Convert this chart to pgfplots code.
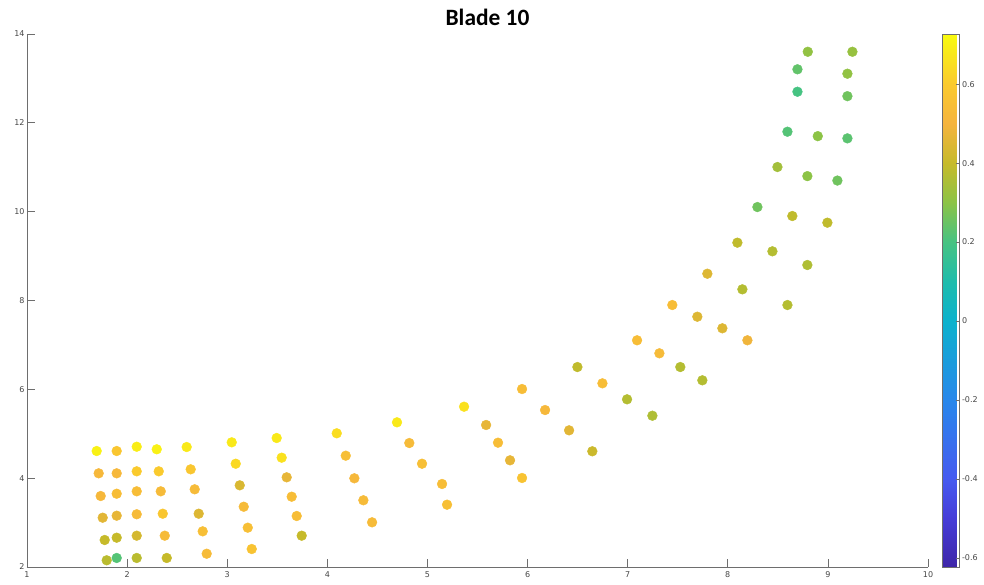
\documentclass[border=0pt]{standalone}
\usepackage{fontspec}
\setmainfont{DejaVu Sans}
\newfontfamily\carlito{Carlito}
\usepackage{pgfplots}
\pgfplotsset{compat=1.18}

% parula-like colour map
\pgfplotsset{colormap={parula}{
  rgb255(0)=(62,38,168)
  rgb255(91)=(70,60,215)
  rgb255(165)=(70,90,240)
  rgb255(313)=(40,135,235)
  rgb255(461)=(12,178,205)
  rgb255(535)=(30,188,172)
  rgb255(610)=(70,195,130)
  rgb255(684)=(140,195,70)
  rgb255(758)=(198,186,42)
  rgb255(832)=(245,180,62)
  rgb255(906)=(250,202,45)
  rgb255(1000)=(249,251,14)
}}

\definecolor{axgray}{RGB}{110,110,110}
\definecolor{lblgray}{RGB}{70,70,70}

\begin{document}
\begin{tikzpicture}
\begin{axis}[
  at={(0pt,0pt)}, anchor=south west,
  scale only axis, width=901pt, height=533pt,
  xmin=1, xmax=10, ymin=2, ymax=14,
  xtick={1,2,...,10}, ytick={2,4,...,14},
  axis x line*=bottom, axis y line*=left,
  axis line style={axgray, line width=0.7pt},
  tick align=inside, major tick length=8pt,
  tick style={axgray, line width=0.7pt},
  ticklabel style={font=\fontsize{8}{9}\selectfont, text=lblgray},
  /pgf/number format/assume math mode=true,
  xticklabel style={yshift=-1pt},
  yticklabel style={xshift=1pt},
  title={Blade 10},
  title style={font=\carlito\bfseries\fontsize{23.4}{25}\selectfont,
               at={(0.5,1)}, anchor=base, xshift=10pt, yshift=2.5pt},
  colorbar, colormap name=parula,
  point meta min=-0.623, point meta max=0.727,
  colorbar style={
    scale only axis, width=17pt, height=533pt,
    at={(parent axis.north east)}, anchor=north west, xshift=6pt,
    ytick={-0.6,-0.4,-0.2,0,0.2,0.4,0.6},
    ytick pos=right, yticklabel pos=right,
    tick align=inside, major tick length=4pt,
    tick style={axgray, line width=0.6pt},
    axis line style={axgray, line width=0.6pt},
    /pgf/number format/assume math mode=true,
    yticklabel style={font=\fontsize{8}{9}\selectfont, text=lblgray,
      /pgf/number format/fixed, /pgf/number format/assume math mode=true,
      xshift=-1pt},
  },
]
\addplot[scatter, only marks, mark=*, mark size=4.9pt,
  scatter/use mapped color={draw=mapped color, fill=mapped color},
  scatter src=explicit]
  table[x=x, y=y, meta=c] {
x y c
1.696 4.611 0.70
1.716 4.109 0.52
1.736 3.598 0.52
1.756 3.110 0.46
1.776 2.608 0.40
1.796 2.151 0.38
1.896 4.611 0.58
1.896 4.109 0.52
1.896 3.650 0.54
1.896 3.155 0.47
1.896 2.660 0.40
1.896 2.203 0.22
2.096 4.708 0.69
2.096 4.154 0.60
2.096 3.704 0.54
2.096 3.187 0.53
2.096 2.705 0.43
2.096 2.203 0.38
2.296 4.650 0.70
2.316 4.154 0.60
2.336 3.704 0.53
2.356 3.200 0.58
2.376 2.705 0.53
2.396 2.203 0.40
2.595 4.701 0.68
2.635 4.199 0.58
2.675 3.749 0.53
2.715 3.200 0.45
2.755 2.803 0.55
2.795 2.299 0.53
3.045 4.807 0.68
3.085 4.325 0.64
3.125 3.839 0.44
3.165 3.357 0.53
3.205 2.885 0.55
3.245 2.405 0.57
3.494 4.904 0.68
3.544 4.461 0.66
3.594 4.019 0.47
3.644 3.583 0.54
3.694 3.148 0.54
3.744 2.705 0.40
4.094 5.010 0.65
4.184 4.506 0.55
4.270 3.997 0.52
4.360 3.502 0.53
4.447 3.006 0.53
4.696 5.257 0.68
4.819 4.791 0.53
4.946 4.325 0.55
5.146 3.869 0.54
5.196 3.403 0.55
5.366 5.609 0.66
5.586 5.197 0.47
5.705 4.799 0.54
5.825 4.402 0.47
5.945 4.004 0.57
5.945 6.007 0.54
6.175 5.534 0.52
6.415 5.077 0.46
6.647 4.605 0.41
6.498 6.502 0.39
6.748 6.135 0.54
6.994 5.775 0.37
7.247 5.406 0.36
7.094 7.104 0.54
7.317 6.811 0.53
7.526 6.502 0.37
7.746 6.203 0.37
7.446 7.898 0.54
7.696 7.635 0.45
7.946 7.374 0.45
8.196 7.104 0.49
7.796 8.603 0.45
8.146 8.251 0.37
8.596 7.898 0.37
8.096 9.302 0.39
8.446 9.107 0.37
8.795 8.799 0.36
8.296 10.104 0.26
8.645 9.902 0.39
8.995 9.752 0.39
8.496 11.005 0.34
8.795 10.800 0.30
9.095 10.700 0.26
8.596 11.800 0.22
8.899 11.700 0.30
9.195 11.650 0.23
8.696 12.700 0.20
9.195 12.600 0.26
8.696 13.205 0.24
9.195 13.106 0.31
8.799 13.600 0.31
9.245 13.600 0.32
};
\end{axis}
\pgfresetboundingbox
\path[use as bounding box] (-27pt,-18pt) rectangle (957pt,567pt);
\end{tikzpicture}
\end{document}
